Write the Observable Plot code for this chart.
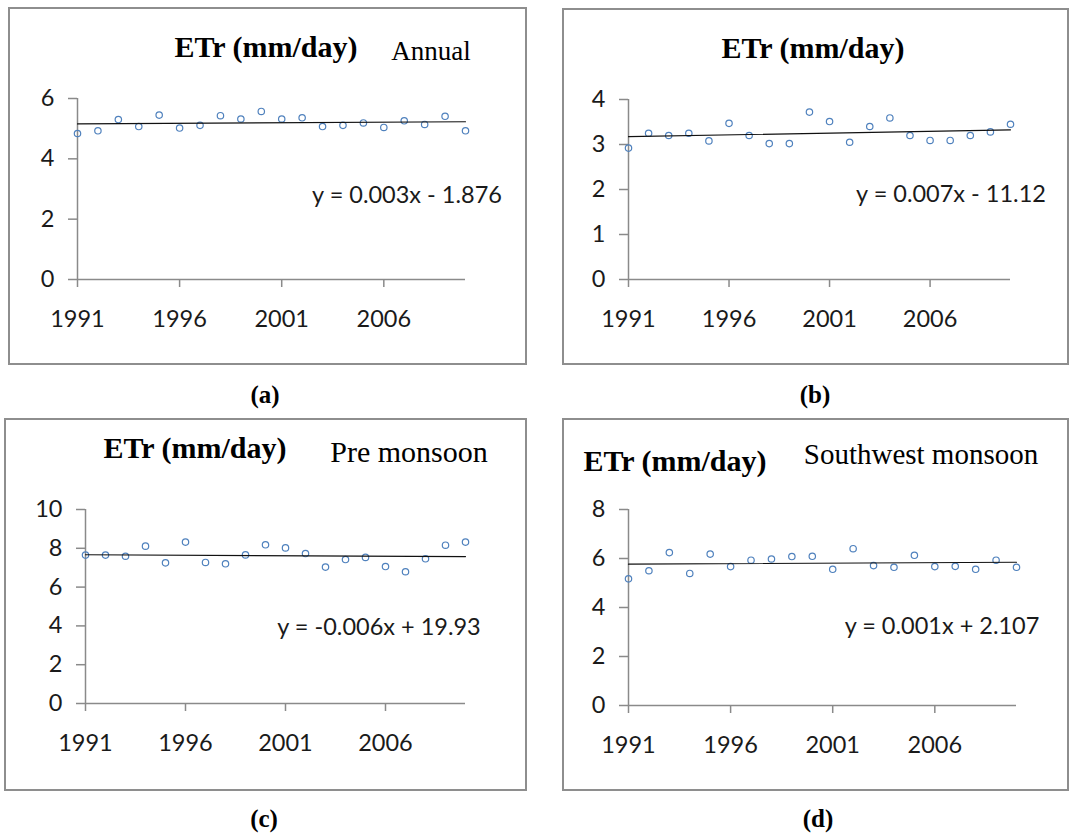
<!DOCTYPE html>
<html>
<head>
<meta charset="utf-8">
<script src="https://cdn.jsdelivr.net/npm/d3@7"></script>
<script src="https://cdn.jsdelivr.net/npm/@observablehq/plot@0.6"></script>
<style>
  html, body { margin: 0; padding: 0; background: #fff; }
  #page { position: relative; width: 1073px; height: 836px; overflow: hidden; background: #fff; }
  .box { position: absolute; box-sizing: border-box; border: 2px solid #8e8e8e; }
  .chart { position: absolute; }
  #overlay { position: absolute; left: 0; top: 0; }
</style>
</head>
<body>
<div id="page"></div>
<script>
// ---- data ----
const years = [1991,1992,1993,1994,1995,1996,1997,1998,1999,2000,2001,2002,2003,2004,2005,2006,2007,2008,2009,2010];
const xTicks = [1991, 1996, 2001, 2006];

const annual    = [4.84,4.93,5.30,5.07,5.45,5.02,5.11,5.43,5.32,5.57,5.32,5.36,5.07,5.11,5.19,5.04,5.26,5.14,5.41,4.93];
const panelB    = [2.92,3.25,3.20,3.25,3.08,3.47,3.20,3.02,3.02,3.72,3.51,3.05,3.40,3.59,3.20,3.09,3.09,3.20,3.28,3.45];
const preMonsoon= [7.65,7.65,7.59,8.11,7.25,8.32,7.27,7.20,7.66,8.18,8.02,7.73,7.03,7.42,7.53,7.06,6.79,7.46,8.16,8.32];
const swMonsoon = [5.17,5.50,6.24,5.39,6.18,5.67,5.93,5.98,6.08,6.09,5.56,6.40,5.71,5.64,6.13,5.67,5.68,5.56,5.93,5.64];

const yTicksA = [0,2,4,6];
const yTicksB = [0,1,2,3,4];
const yTicksC = [0,2,4,6,8,10];
const yTicksD = [0,2,4,6,8];

const titleText = "ETr (mm/day)";
const subtitles = ["Annual", "", "Pre monsoon", "Southwest monsoon"];
const equations = ["y = 0.003x - 1.876", "y = 0.007x - 11.12", "y = -0.006x + 19.93", "y = 0.001x + 2.107"];
const panelLabels = ["(a)", "(b)", "(c)", "(d)"];

// ---- layout ----
const panels = [
  {values: annual,     yTicks: yTicksA, box: [8, 7, 519, 358],   m: [91, 62, 86, 69],
   title: [266, 57], sub: [431, 60, 27], eq: [407, 203], label: [265, 403]},
  {values: panelB,     yTicks: yTicksB, box: [562, 8, 507, 357], m: [91, 59, 86, 66],
   title: [813, 58], sub: null, eq: [951, 202], label: [815, 403]},
  {values: preMonsoon, yTicks: yTicksC, box: [4, 418, 523, 373], m: [91, 62, 88, 81],
   title: [195, 458], sub: [409, 462, 30], eq: [379, 635], label: [264, 827]},
  {values: swMonsoon,  yTicks: yTicksD, box: [562, 418, 507, 373], m: [91, 53, 86, 66],
   title: [675, 471], sub: [921, 464, 29], eq: [942, 634], label: [818, 827]}
];

const page = document.getElementById("page");
const axisGray = "#8a8a8a";
const sans = "Lato, 'Open Sans', sans-serif";

panels.forEach((p, i) => {
  const [left, top, w, h] = p.box;
  const box = document.createElement("div");
  box.className = "box";
  Object.assign(box.style, {left: left + "px", top: top + "px", width: w + "px", height: h + "px"});
  page.appendChild(box);

  const data = years.map((x, k) => ({x, y: p.values[k]}));
  const yMax = p.yTicks[p.yTicks.length - 1];
  const chart = Plot.plot({
    width: w, height: h,
    marginTop: p.m[0], marginRight: p.m[1], marginBottom: p.m[2], marginLeft: p.m[3],
    x: {domain: [years[0], years[years.length - 1]], axis: null},
    y: {domain: [0, yMax], axis: null},
    style: {fontFamily: sans, fontSize: "23.5px", background: "transparent", overflow: "visible"},
    marks: [
      Plot.ruleX([years[0]], {stroke: axisGray, strokeWidth: 1.5}),
      Plot.ruleY([0], {stroke: axisGray, strokeWidth: 1.5}),
      Plot.axisX({ticks: xTicks, tickFormat: d => String(d), tickSize: 8, tickPadding: 23, label: null,
                  stroke: axisGray, strokeWidth: 1.5, fill: "#1a1a1a"}),
      Plot.axisY({ticks: p.yTicks, tickFormat: d => String(d), tickSize: 9, tickPadding: 14, label: null,
                  stroke: axisGray, strokeWidth: 1.5, fill: "#1a1a1a"}),
      Plot.dot(data, {x: "x", y: "y", r: 3.2, stroke: "#4f81bd", strokeWidth: 1.2, fill: "none"}),
      Plot.linearRegressionY(data, {x: "x", y: "y", stroke: "#111", strokeWidth: 1.2, ci: 0})
    ]
  });
  chart.classList.add("chart");
  chart.style.left = left + "px";
  chart.style.top = top + "px";
  page.appendChild(chart);
});

// ---- text overlay ----
const ns = "http://www.w3.org/2000/svg";
const overlay = document.createElementNS(ns, "svg");
overlay.setAttribute("id", "overlay");
overlay.setAttribute("width", 1073);
overlay.setAttribute("height", 836);
function addText(str, x, y, opts) {
  const t = document.createElementNS(ns, "text");
  t.setAttribute("x", x);
  t.setAttribute("y", y);
  t.setAttribute("text-anchor", "middle");
  t.setAttribute("font-family", opts.family);
  t.setAttribute("font-size", opts.size);
  if (opts.weight) t.setAttribute("font-weight", opts.weight);
  t.setAttribute("fill", opts.fill || "#000");
  t.textContent = str;
  overlay.appendChild(t);
}
const serif = "'Liberation Serif', 'Times New Roman', serif";
panels.forEach((p, i) => {
  addText(titleText, p.title[0], p.title[1], {family: serif, size: 30, weight: "bold"});
  if (p.sub) addText(subtitles[i], p.sub[0], p.sub[1], {family: serif, size: p.sub[2]});
  addText(equations[i], p.eq[0], p.eq[1], {family: sans, size: 23.5, fill: "#1a1a1a"});
  addText(panelLabels[i], p.label[0], p.label[1], {family: serif, size: 25, weight: "bold"});
});
page.appendChild(overlay);
</script>
</body>
</html>
